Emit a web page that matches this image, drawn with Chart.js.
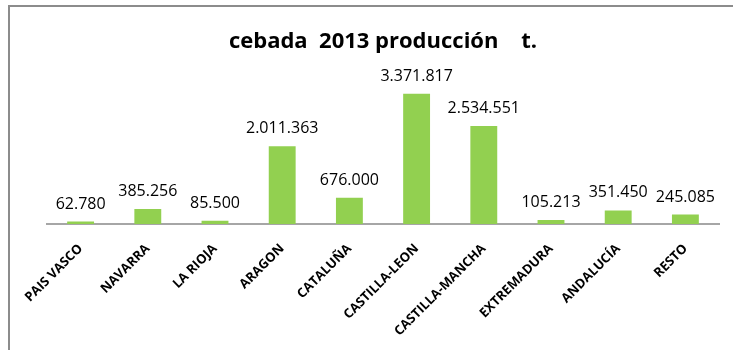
<!DOCTYPE html>
<html>
<head>
<meta charset="utf-8">
<script src="https://cdn.jsdelivr.net/npm/chart.js@4"></script>
<style>
  html, body { margin: 0; padding: 0; background: #fff; }
  #wrap { position: relative; width: 733px; height: 350px; }
  #frame { position: absolute; left: 8px; top: 5px; right: 0; bottom: 0;
           border-top: 2px solid #8c8c8c; border-left: 2px solid #8c8c8c; pointer-events: none; }
</style>
</head>
<body>
<div id="wrap">
  <canvas id="myChart" width="733" height="350"></canvas>
  <div id="frame"></div>
</div>
<script>
// regions and production (t)
const regions = ['PAIS VASCO', 'NAVARRA', 'LA RIOJA', 'ARAGON', 'CATALUÑA',
  'CASTILLA-LEON', 'CASTILLA-MANCHA', 'EXTREMADURA', 'ANDALUCÍA', 'RESTO'];
const production = [62780, 385256, 85500, 2011363, 676000,
  3371817, 2534551, 105213, 351450, 245085];
const valueLabels = ['62.780', '385.256', '85.500', '2.011.363', '676.000',
  '3.371.817', '2.534.551', '105.213', '351.450', '245.085'];

const barLabels = {
  id: 'barLabels',
  afterDatasetsDraw(chart) {
    const ctx = chart.ctx;
    const meta = chart.getDatasetMeta(0);
    ctx.save();
    ctx.font = '16px "Open Sans"';
    ctx.fillStyle = '#000';
    ctx.textAlign = 'center';
    ctx.textBaseline = 'alphabetic';
    meta.data.forEach((bar, i) => {
      ctx.fillText(valueLabels[i], bar.x, bar.y - 13);
    });
    ctx.restore();
  }
};

const ctx = document.getElementById('myChart').getContext('2d');
new Chart(ctx, {
  type: 'bar',
  data: {
    labels: regions,
    datasets: [{
      data: production,
      backgroundColor: '#92D050',
      borderWidth: 0,
      barPercentage: 0.4,
      categoryPercentage: 1
    }]
  },
  options: {
    responsive: false,
    animation: false,
    layout: { padding: { left: 47, right: 14, top: 0, bottom: 0 } },
    plugins: {
      legend: { display: false },
      tooltip: { enabled: false },
      title: {
        display: true,
        text: 'cebada  2013 producción    t.',
        color: '#000',
        font: { family: 'Open Sans', size: 22, weight: 'bold' },
        padding: { top: 29, bottom: 14 }
      }
    },
    scales: {
      x: {
        grid: { display: false },
        border: { display: true, color: '#a6a6a6', width: 2 },
        ticks: {
          color: '#000',
          font: { family: 'Open Sans', size: 13, weight: 'bold' },
          maxRotation: 45,
          minRotation: 45,
          padding: 9,
          autoSkip: false
        },
        afterFit(scale) { scale.height = 126; }
      },
      y: {
        display: false,
        min: 0,
        max: 4000000
      }
    }
  },
  plugins: [barLabels]
});
</script>
</body>
</html>
